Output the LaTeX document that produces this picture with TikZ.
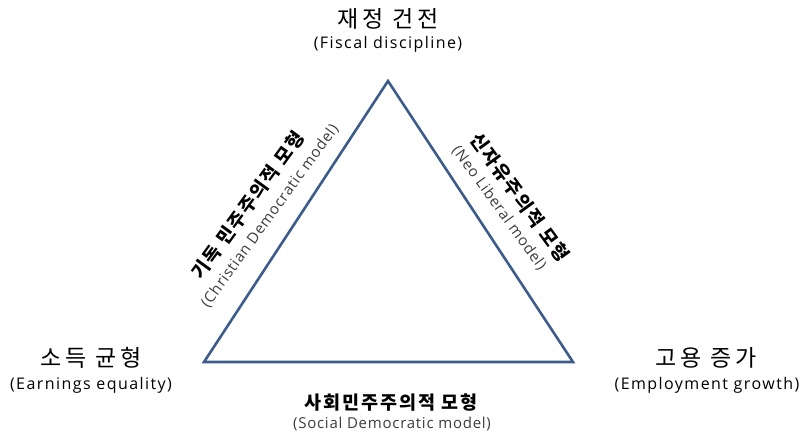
\documentclass[tikz,border=0pt]{standalone}
\usepackage{fontspec}
\setmainfont{Open Sans}
\newfontfamily\kr{Noto Sans CJK KR}
\newfontfamily\krsp[LetterSpace=16]{Noto Sans CJK KR}
\newfontfamily\krbsp[LetterSpace=10]{Noto Sans CJK KR}
\newfontfamily\ensp[LetterSpace=9]{Open Sans}
\newfontfamily\enssp[LetterSpace=5]{Open Sans}
\definecolor{triblue}{RGB}{60,92,140}
\definecolor{subgray}{RGB}{60,60,60}
\tikzset{
  side/.style={draw=triblue, line width=2.6pt, line join=miter},
  krlab/.style={font=\krsp\fontsize{23}{26}\selectfont, inner sep=0pt},
  enlab/.style={font=\ensp\fontsize{16}{19}\selectfont, inner sep=0pt},
  krbold/.style={font=\krbsp\bfseries\fontsize{18.5}{21}\selectfont, inner sep=0pt},
  ensub/.style={font=\enssp\fontsize{15}{18}\selectfont, text=subgray, inner sep=0pt}
}
\begin{document}
\begin{tikzpicture}[x=1pt,y=-1pt]
\useasboundingbox (0,0) rectangle (805,433);
\coordinate (T) at (388,81);
\coordinate (L) at (204,362);
\coordinate (R) at (573,362);
\draw[side] (T) -- (L) -- (R) -- cycle;

\node[krlab] (tk) at (388,19) {재정 건전};
\node[enlab] (te) at (388,44) {(Fiscal discipline)};
\node[krlab] (lk) at (91,358) {소득 균형};
\node[enlab] (le) at (91,385) {(Earnings equality)};
\node[krlab] (rk) at (706,358) {고용 증가};
\node[enlab] (re) at (707,385) {(Employment growth)};

\node[krbold] (bk) at (391,403) {사회민주주의적 모형};
\node[ensub] (be) at (392,424) {(Social Democratic model)};

\node[krbold, rotate=54] (ck) at (248,205) {기독 민주주의적 모형};
\node[ensub, rotate=54] (ce) at (270,216) {(Christian Democratic model)};

\node[krbold, rotate=-54] (nk) at (520,197) {신자유주의적 모형};
\node[ensub, rotate=-54] (ne) at (499,208) {(Neo Liberal model)};
\end{tikzpicture}
\end{document}
